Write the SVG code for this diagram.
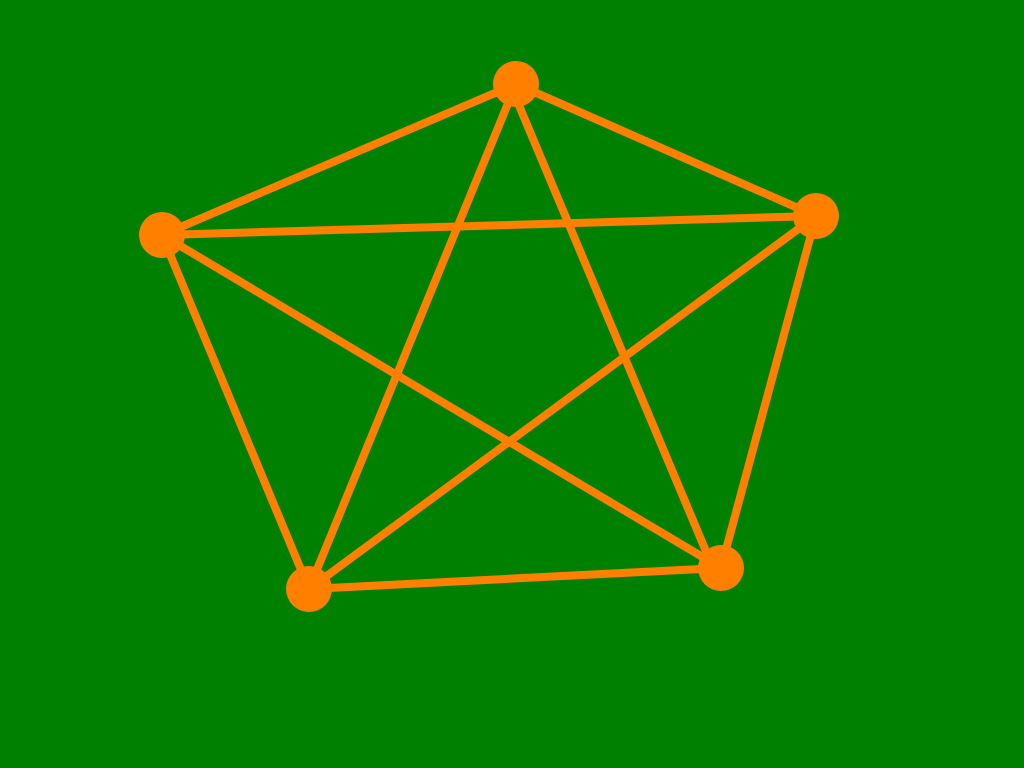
<svg xmlns="http://www.w3.org/2000/svg" width="1024" height="768" viewBox="0 0 1024 768">
  <style>
    .edge { stroke: #ff8000; stroke-width: 8; fill: none; }
    .node { fill: #ff8000; }
  </style>
  <rect x="0" y="0" width="1024" height="768" fill="#008000"/>
  <g id="connectors">
    <line class="edge" x1="516" y1="84" x2="816" y2="216"/>
    <line class="edge" x1="516" y1="84" x2="162" y2="235"/>
    <line class="edge" x1="516" y1="84" x2="309" y2="589"/>
    <line class="edge" x1="510" y1="84" x2="713" y2="568"/>
    <line class="edge" x1="816" y1="216" x2="162" y2="235"/>
    <line class="edge" x1="816" y1="216" x2="309" y2="589"/>
    <line class="edge" x1="816" y1="216" x2="721" y2="568"/>
    <line class="edge" x1="162" y1="235" x2="309" y2="589"/>
    <line class="edge" x1="162" y1="235" x2="721" y2="568"/>
    <line class="edge" x1="309" y1="589" x2="721" y2="568"/>
  </g>
  <g id="node-a"><circle class="node" cx="516" cy="84" r="23"/></g>
  <g id="node-b"><circle class="node" cx="816" cy="216" r="23"/></g>
  <g id="node-c"><circle class="node" cx="162" cy="235" r="23"/></g>
  <g id="node-d"><circle class="node" cx="309" cy="589" r="23"/></g>
  <g id="node-e"><circle class="node" cx="721" cy="568" r="23"/></g>
</svg>
